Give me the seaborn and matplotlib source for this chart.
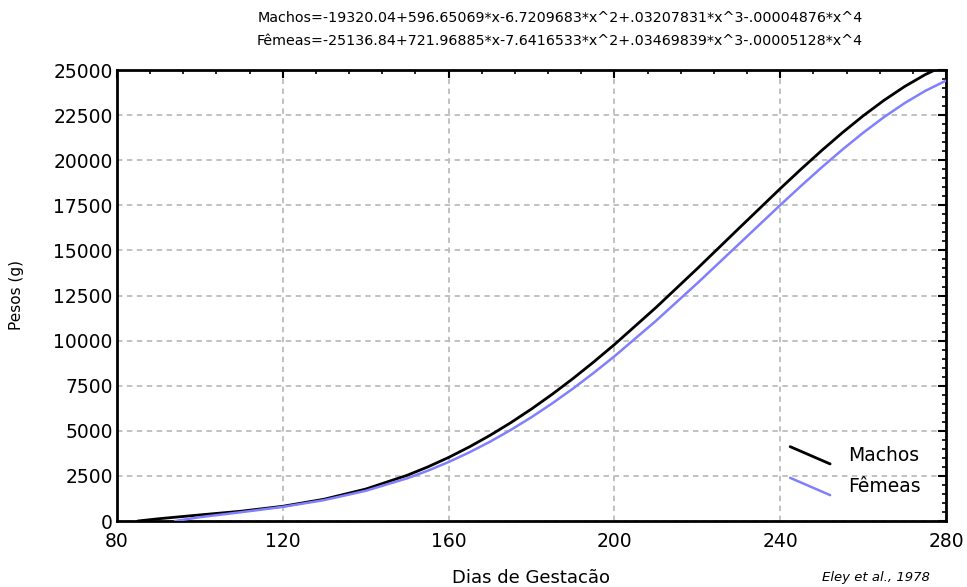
import numpy as np
import pandas as pd
import matplotlib
matplotlib.use("Agg")
import matplotlib.pyplot as plt
import seaborn as sns
from matplotlib.lines import Line2D
from matplotlib.legend_handler import HandlerLine2D
from matplotlib.ticker import MultipleLocator

# pesos (g) por dia de gestacao
dias_machos = [85, 90, 100, 110, 120, 130, 140, 150, 155, 160, 165, 170, 175, 180,
               185, 190, 195, 200, 210, 220, 230, 240, 245, 250, 255, 260, 265,
               270, 275, 280]
pesos_machos = [0, 125, 338, 545, 817, 1210, 1771, 2535, 3001, 3525, 4108, 4751,
                5452, 6212, 7028, 7897, 8817, 9782, 11830, 13995, 16217, 18425,
                19499, 20537, 21528, 22459, 23315, 24084, 24749, 25295]

dias_femeas = [94, 100, 110, 120, 130, 140, 150, 155, 160, 165, 170, 175, 180,
               185, 190, 195, 200, 210, 220, 230, 240, 245, 250, 255, 260, 265,
               270, 275, 280]
pesos_femeas = [0, 214, 491, 785, 1162, 1675, 2368, 2791, 3270, 3805, 4398, 5049,
                5757, 6522, 7341, 8212, 9130, 11092, 13182, 15345, 17512, 18572,
                19602, 20589, 21521, 22384, 23164, 23845, 24412]

titulo_machos = "Machos=-19320.04+596.65069*x-6.7209683*x^2+.03207831*x^3-.00004876*x^4"
titulo_femeas = "Fêmeas=-25136.84+721.96885*x-7.6416533*x^2+.03469839*x^3-.00005128*x^4"

x_ticks = [80, 120, 160, 200, 240, 280]
y_ticks = list(range(0, 25001, 2500))


class DiagonalHandler(HandlerLine2D):
    # legenda com o traco inclinado, como no original
    def create_artists(self, legend, orig_handle, xdescent, ydescent,
                       width, height, fontsize, trans):
        line = Line2D([-xdescent, width - xdescent],
                      [height - ydescent + 1, -ydescent - 2])
        self.update_prop(line, orig_handle, legend)
        line.set_transform(trans)
        return [line]


df_m = pd.DataFrame({"dia": dias_machos, "peso": pesos_machos})
df_f = pd.DataFrame({"dia": dias_femeas, "peso": pesos_femeas})

sns.set_style("white")
plt.rcParams["font.family"] = ["DejaVu Sans"]
plt.rcParams["text.color"] = "black"
plt.rcParams["xtick.color"] = "black"
plt.rcParams["ytick.color"] = "black"

fig = plt.figure(figsize=(9.67, 5.87), dpi=100)
ax = fig.add_axes([0.121, 0.1124, 0.8573, 0.7683])

sns.lineplot(data=df_m, x="dia", y="peso", color="black", linewidth=2,
             label="Machos", ax=ax, zorder=3)
sns.lineplot(data=df_f, x="dia", y="peso", color="#8080ff", linewidth=1.8,
             label="Fêmeas", ax=ax, zorder=3)

ax.set_xlim(80, 280)
ax.set_ylim(0, 25000)
ax.set_xticks(x_ticks)
ax.set_yticks(y_ticks)
ax.xaxis.set_minor_locator(MultipleLocator(8))
ax.yaxis.set_minor_locator(MultipleLocator(500))

ax.grid(True, which="major", color="#bcbcbc", linestyle=(0, (3, 2.5)), linewidth=1.3)
ax.set_axisbelow(True)

for s in ax.spines.values():
    s.set_visible(True)
    s.set_color("black")
    s.set_linewidth(2)

ax.tick_params(which="both", direction="in", top=True, right=True, color="black")
ax.tick_params(which="major", length=6, width=1.5)
ax.tick_params(which="minor", length=3, width=1.2)
ax.tick_params(axis="x", which="major", labelsize=13.5, pad=8, labelcolor="black")
ax.tick_params(axis="y", which="major", labelsize=13.5, pad=3, labelcolor="black")

ax.set_xlabel("")
ax.set_ylabel("")

leg = ax.legend(handler_map={Line2D: DiagonalHandler()}, loc="upper left",
                bbox_to_anchor=(0.812, 0.166), frameon=False, fontsize=13.5,
                borderpad=0, borderaxespad=0, handlelength=2.13,
                handletextpad=0.95, labelspacing=0.65)
for t in leg.get_texts():
    t.set_color("black")

fig.text(560 / 967, 1 - 18 / 587, titulo_machos, ha="center", va="center", fontsize=10.3)
fig.text(560 / 967, 1 - 41 / 587, titulo_femeas, ha="center", va="center", fontsize=10.3)

fig.text(531 / 967, 1 - 578 / 587, "Dias de Gestacão", ha="center", va="center", fontsize=13)
fig.text(17 / 967, 1 - 295 / 587, "Pesos (g)", ha="center", va="center",
         rotation=90, fontsize=11)
fig.text(822 / 967, 1 - 578 / 587, "Eley et al., 1978", ha="left", va="center",
         fontsize=9.5, style="italic")

fig.savefig("out.png", dpi=100)
